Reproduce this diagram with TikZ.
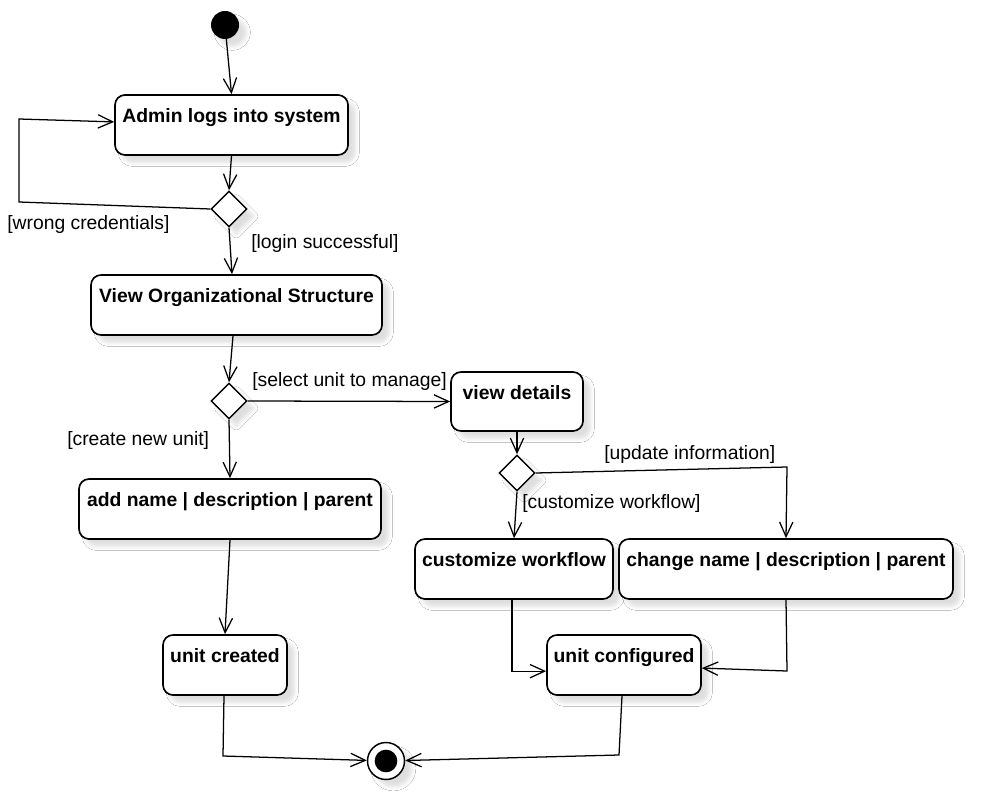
\documentclass[tikz,border=0pt]{standalone}
\usepackage{fontspec}
\setmainfont{Liberation Sans}
\usetikzlibrary{arrows.meta,shapes.geometric,shadows.blur,calc}
\newdimen\pxu
\pxu=0.75pt
\begin{document}
\begin{tikzpicture}[x=0.75pt,y=-0.75pt,
  font=\fontsize{14.5}{17}\selectfont,
  soft/.style={blur shadow={shadow xshift=5.5pt, shadow yshift=-5.5pt, shadow blur radius=3pt, shadow opacity=13}},
  act/.style={draw, line width=1.25pt, rounded corners=7.5pt, fill=white, minimum height=60\pxu, inner sep=0pt, soft},
  acttext/.style={anchor=base, yshift=-28\pxu, font=\fontsize{14.5}{17}\selectfont\bfseries, inner sep=0pt},
  decision/.style={diamond, draw, line width=1.1pt, fill=white, minimum width=36\pxu, minimum height=36\pxu, inner sep=0pt, soft},
  flow/.style={line width=0.95pt, -{Straight Barb[length=11pt,width=10pt]}},
  guard/.style={anchor=base west, inner sep=0pt}
]
\fill[white] (0,0) rectangle (991,805);
\useasboundingbox (0,0) rectangle (991,805);

% activity nodes
\node[circle, fill=black, minimum size=28\pxu, inner sep=0pt, soft] (start) at (225,25) {};
\node[act, minimum width=233\pxu, label={[acttext]north:Admin logs into system}] (login) at (231.5,125) {};
\node[decision] (d1) at (229,209) {};
\node[act, minimum width=291\pxu, label={[acttext]north:View Organizational Structure}] (view) at (236.5,305) {};
\node[decision] (d2) at (229,401) {};
\node[act, minimum width=132\pxu, minimum height=59\pxu, label={[acttext]north:view details}] (details) at (517,401.5) {};
\node[decision] (d3) at (517,473) {};
\node[act, minimum width=302\pxu, label={[acttext]north:add name | description | parent}] (add) at (230,509) {};
\node[act, minimum width=198\pxu, label={[acttext]north:customize workflow}] (custom) at (514,569) {};
\node[act, minimum width=334\pxu, label={[acttext]north:change name | description | parent}] (change) at (786,569) {};
\node[act, minimum width=124\pxu, label={[acttext]north:unit created}] (created) at (225,665) {};
\node[act, minimum width=154\pxu, label={[acttext]north:unit configured}] (configured) at (624,665) {};
\node[circle, draw, line width=1.1pt, fill=white, minimum size=37\pxu, inner sep=0pt, soft] (end) at (386,761) {};
% filled core of the final node
\fill (end.center) circle[radius=8.5pt];

% bend points
\coordinate (w1) at (19,202);
\coordinate (w2) at (19,119);
\coordinate (u1) at (787,467);
\coordinate (r1) at (787,671);
\coordinate (e1) at (223,756);
\coordinate (e2) at (619,755);

% control flow
\draw[flow] (start) -- (login.north);
\draw[flow] (login.south) -- (d1.north);
\draw[flow] (d1.west) -- (w1) -- (w2) -- ($(login.north west)!0.45!(login.south west)$);
\draw[flow] (d1.south) -- ($(view.north)+(-4.5,0)$);
\draw[flow] ($(view.south)+(-3.5,0)$) -- (d2.north);
\draw[flow] (d2.east) -- (details.west);
\draw[flow] (d2.south) -- (add.north);
\draw[flow] (add.south) -- (created.north);
\draw[flow] (details.south) -- (d3.north);
\draw[flow] (d3.south) -- (custom.north);
\draw[flow] (d3.east) -- (u1) -- (change.north);
\draw[flow] ($(custom.south)+(-2,0)$) |- ($(configured.north west)!0.6!(configured.south west)$);
\draw[flow] (change.south) -- (r1) -- ($(configured.north east)!0.55!(configured.south east)$);
\draw[flow] ($(created.south)+(-1,0)$) -- (e1) -- (end);
\draw[flow] ($(configured.south)+(-2,0)$) -- (e2) -- (end);

% guard conditions
\node[guard] (gwrong) at (7,230) {[wrong credentials]};
\node[guard] (glogin) at (251,249) {[login successful]};
\node[guard] (gselect) at (252,386) {[select unit to manage]};
\node[guard] (gcreate) at (67,445) {[create new unit]};
\node[guard] (gupdate) at (604,459) {[update information]};
\node[guard] (gcustom) at (522,508) {[customize workflow]};
\end{tikzpicture}
\end{document}
